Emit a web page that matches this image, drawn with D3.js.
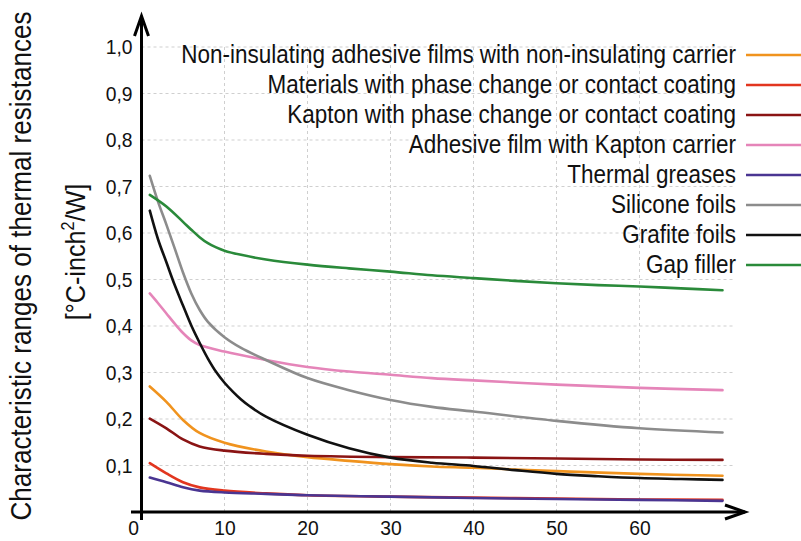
<!DOCTYPE html>
<html>
<head>
<meta charset="utf-8">
<script src="https://cdn.jsdelivr.net/npm/d3@7"></script>
<style>
  body { margin: 0; background: #fff; }
  text { font-family: "Liberation Sans", Arial, sans-serif; fill: #111; }
</style>
</head>
<body>
<div id="chart"></div>
<script>
// series names, in legend order
const names = [
  'Non-insulating adhesive films with non-insulating carrier',
  'Materials with phase change or contact coating',
  'Kapton with phase change or contact coating',
  'Adhesive film with Kapton carrier',
  'Thermal greases',
  'Silicone foils',
  'Grafite foils',
  'Gap filler'
];
const colors = ['#f0931e', '#e2361f', '#8a1414', '#e585b9', '#4a3592', '#8c8c8c', '#111111', '#2a8a3a'];

// values: [pressure, resistance]
const nonInsulating = [[1,.270],[3,.237],[5,.198],[7,.170],[10,.149],[15,.130],[20,.118],[25,.110],[30,.103],[35,.098],[40,.095],[50,.088],[60,.082],[70,.078]];
const phaseChange = [[1,.105],[3,.083],[5,.064],[7,.053],[10,.046],[15,.040],[20,.036],[30,.033],[40,.031],[50,.029],[60,.027],[70,.026]];
const kaptonPhase = [[1,.201],[3,.180],[5,.156],[7,.141],[10,.132],[15,.125],[20,.121],[30,.118],[40,.117],[50,.115],[60,.113],[70,.112]];
const kaptonCarrier = [[1,.470],[2,.449],[3,.427],[4,.405],[5,.385],[6,.369],[7,.359],[10,.345],[15,.327],[20,.312],[25,.302],[30,.295],[35,.288],[40,.283],[50,.274],[60,.267],[70,.262]];
const greases = [[1,.074],[3,.064],[5,.053],[7,.046],[10,.042],[15,.039],[20,.036],[30,.033],[40,.030],[50,.028],[60,.026],[70,.024]];
const silicone = [[1,.723],[2,.667],[3,.618],[4,.567],[5,.515],[6,.470],[7,.435],[8,.409],[10,.376],[12,.353],[15,.327],[20,.288],[25,.262],[30,.241],[35,.226],[40,.216],[50,.196],[60,.180],[70,.171]];
const grafite = [[1,.648],[2,.586],[3,.537],[4,.488],[5,.444],[6,.401],[7,.364],[8,.330],[9,.301],[10,.278],[11,.259],[12,.242],[13,.228],[15,.205],[20,.166],[25,.137],[30,.117],[35,.106],[40,.099],[45,.090],[50,.082],[55,.077],[60,.073],[65,.071],[70,.069]];
const gapFiller = [[1,.682],[3,.657],[5,.624],[6,.607],[7,.591],[8,.578],[9,.569],[10,.562],[12,.553],[15,.543],[20,.532],[25,.524],[30,.517],[35,.509],[40,.503],[45,.497],[50,.492],[55,.488],[60,.485],[65,.481],[70,.477]];

const series = [nonInsulating, phaseChange, kaptonPhase, kaptonCarrier, greases, silicone, grafite, gapFiller];

const xTicks = [0, 10, 20, 30, 40, 50, 60];
const yTicks = [0.1, 0.2, 0.3, 0.4, 0.5, 0.6, 0.7, 0.8, 0.9, 1.0];
const yTitle1 = 'Characteristic ranges of thermal resistances';

const width = 801, height = 541;

const svg = d3.select('#chart').append('svg')
  .attr('width', width)
  .attr('height', height);

const x = d3.scaleLinear().domain([0, 70]).range([141.5, 722.5]);
const y = d3.scaleLinear().domain([0, 1]).range([512, 47]);

// grid
const grid = svg.append('g')
  .attr('stroke', '#cfcfcf')
  .attr('stroke-width', 1)
  .attr('stroke-dasharray', '3,3');

grid.selectAll('.hg').data(yTicks).join('line')
  .attr('x1', x(0)).attr('x2', x(71.3))
  .attr('y1', d => y(d)).attr('y2', d => y(d));

grid.selectAll('.vg').data(xTicks.slice(1)).join('line')
  .attr('x1', d => x(d)).attr('x2', d => x(d))
  .attr('y1', y(0)).attr('y2', y(1.0));

// axes labels via d3 axes, without lines
const yAxis = svg.append('g')
  .attr('transform', 'translate(' + x(0) + ',0)')
  .call(d3.axisLeft(y).tickValues(yTicks).tickSize(0).tickPadding(9)
    .tickFormat(d => d3.format('.1f')(d).replace('.', ',')));

const xAxis = svg.append('g')
  .attr('transform', 'translate(0,' + y(0) + ')')
  .call(d3.axisBottom(x).tickValues(xTicks).tickSize(0).tickPadding(8)
    .tickFormat(d3.format('d')));

[yAxis, xAxis].forEach(g => {
  g.select('.domain').remove();
  g.selectAll('text')
    .attr('font-size', 21)
    .attr('font-family', '"Liberation Sans", Arial, sans-serif')
    .attr('fill', '#111')
    .attr('transform', 'scale(0.92,1)');
});
yAxis.selectAll('text').attr('x', -9 / 0.92);
xAxis.selectAll('.tick').filter(d => d === 0).select('text').attr('x', -9);

// curves
const line = d3.line()
  .x(d => x(d[0]))
  .y(d => y(d[1]))
  .curve(d3.curveCatmullRom.alpha(0.5));

svg.append('g').selectAll('path').data(series).join('path')
  .attr('d', line)
  .attr('fill', 'none')
  .attr('stroke', (d, i) => colors[i])
  .attr('stroke-width', 2.6)
  .attr('stroke-linecap', 'round');

// axis lines with arrows
const ax = svg.append('g')
  .attr('stroke', '#000')
  .attr('stroke-width', 3)
  .attr('fill', 'none');

ax.append('line').attr('x1', x(0)).attr('x2', x(0)).attr('y1', 520).attr('y2', 16);
ax.append('path').attr('d', `M${x(0) - 7},36 L${x(0)},16 L${x(0) + 7},36`);
ax.append('line').attr('x1', 131).attr('x2', 745).attr('y1', y(0)).attr('y2', y(0));
ax.append('path').attr('d', `M725,${y(0) - 7} L745,${y(0)} L725,${y(0) + 7}`);

// legend
const legend = svg.append('g');
const rows = legend.selectAll('g').data(names).join('g')
  .attr('transform', (d, i) => 'translate(0,' + (55 + i * 30) + ')');

rows.append('text')
  .attr('transform', 'translate(736,8) scale(0.865,1)')
  .attr('text-anchor', 'end')
  .attr('font-size', 26)
  .text(d => d);

rows.append('line')
  .attr('x1', 746).attr('x2', 805)
  .attr('stroke', (d, i) => colors[i])
  .attr('stroke-width', 2.6);

// y title
svg.append('text')
  .attr('transform', 'translate(31,266) rotate(-90) scale(0.87,1)')
  .attr('text-anchor', 'middle')
  .attr('font-size', 30)
  .text(yTitle1);

const t2 = svg.append('text')
  .attr('transform', 'translate(85,252) rotate(-90) scale(0.9,1)')
  .attr('text-anchor', 'middle')
  .attr('font-size', 28);
t2.append('tspan').text('[°C-inch');
t2.append('tspan').attr('font-size', 18).attr('dy', -11).text('2');
t2.append('tspan').attr('dy', 11).text('/W]');
</script>
</body>
</html>
